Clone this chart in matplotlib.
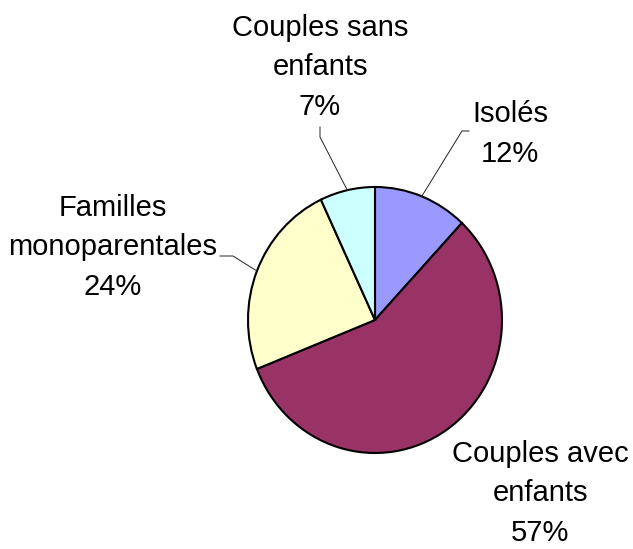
import numpy as np
import matplotlib.pyplot as plt

plt.rcParams['font.family'] = ['Liberation Sans', 'DejaVu Sans']

# data, clockwise from 12 o'clock
categories = ["Isolés", "Couples avec\nenfants", "Familles\nmonoparentales", "Couples sans\nenfants"]
shares = [12, 57, 24, 7]
colors = ["#9999FF", "#993366", "#FFFFCC", "#CCFFFF"]

# pie geometry in pixels (slightly elliptical, as in the original)
W, H = 633, 549
CX, CY = 375, 320
RX, RY = 127, 133


def px(x, y):
    """pixel (from top-left) -> data coords of the unit pie"""
    return (x - CX) / RX, (CY - y) / RY


fig = plt.figure(figsize=(W / 100, H / 100), dpi=100)
ax = fig.add_axes([0, 0, 1, 1])

wedges, _ = ax.pie(shares, colors=colors, startangle=90, counterclock=False,
                   wedgeprops=dict(edgecolor="black", linewidth=1.5))
ax.set_aspect("auto")
ax.set_xlim(*sorted([px(0, 0)[0], px(W, 0)[0]]))
ax.set_ylim(px(0, H)[1], px(0, 0)[1])
ax.axis("off")

# label layout: (center x, last-line baseline y) in px, leader elbow points in px
layout = [
    ((510, 162), [(469, 131), (462, 131)]),
    ((540, 541), None),
    ((113, 295), [(220, 256), (233, 256)]),
    ((320, 115), [(320, 127), (320, 137)]),
]

for w, name, val, (pos, elbow) in zip(wedges, categories, shares, layout):
    tx, ty = px(*pos)
    ax.text(tx, ty, f"{name}\n{val}%", ha="center", va="baseline",
            multialignment="center", fontsize=21, linespacing=1.53, color="black")
    if elbow:
        mid = np.deg2rad((w.theta1 + w.theta2) / 2)
        pts = [px(*p) for p in elbow] + [(np.cos(mid), np.sin(mid))]
        xs, ys = zip(*pts)
        ax.plot(xs, ys, color="#222222", lw=0.7)

fig.savefig("out.png", dpi=100)
